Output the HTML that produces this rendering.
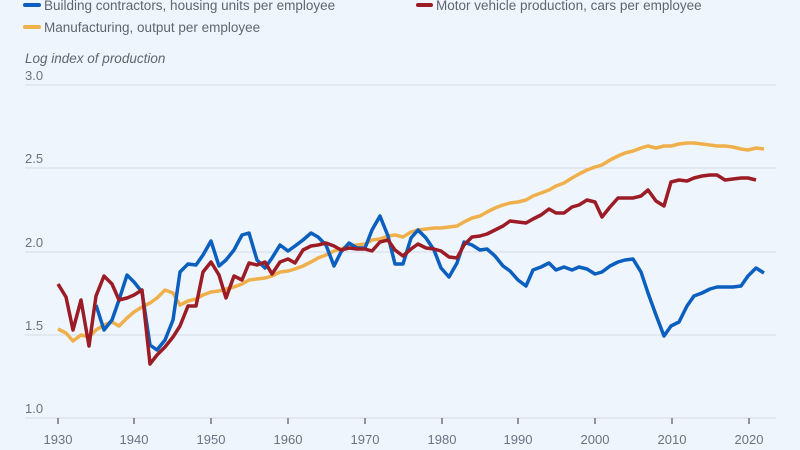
<!DOCTYPE html>
<html><head><style>
html,body{margin:0;padding:0;background:#eff5fd;}
svg{display:block;font-family:"Liberation Sans",sans-serif;}
</style></head><body>
<svg width="800" height="450" viewBox="0 0 800 450" xmlns="http://www.w3.org/2000/svg">
<rect width="800" height="450" fill="#eff5fd"/>
<g fill="#5f6670" font-size="13.5">
<line x1="25" y1="5" x2="39" y2="5" stroke="#0b5fbf" stroke-width="4" stroke-linecap="round"/>
<text x="44" y="10">Building contractors, housing units per employee</text>
<line x1="418" y1="5" x2="431" y2="5" stroke="#9c1c26" stroke-width="4" stroke-linecap="round"/>
<text x="436" y="10">Motor vehicle production, cars per employee</text>
<line x1="25" y1="27" x2="39" y2="27" stroke="#efb04c" stroke-width="4" stroke-linecap="round"/>
<text x="44" y="32">Manufacturing, output per employee</text>
<text x="25" y="63" font-style="italic">Log index of production</text>
</g>
<g stroke="#d3dbe5" stroke-width="1">
<line x1="25" y1="85" x2="776" y2="85"/>
<line x1="25" y1="168" x2="776" y2="168"/>
<line x1="25" y1="252" x2="776" y2="252"/>
<line x1="25" y1="335" x2="776" y2="335"/>
<line x1="25" y1="418" x2="776" y2="418"/>
</g>
<g fill="#6b7380" font-size="13">
<text x="25" y="80">3.0</text>
<text x="25" y="163">2.5</text>
<text x="25" y="247">2.0</text>
<text x="25" y="330">1.5</text>
<text x="25" y="413">1.0</text>
</g>
<g stroke="#333" stroke-width="1">
<line x1="58" y1="418" x2="58" y2="424"/><line x1="134" y1="418" x2="134" y2="424"/><line x1="211" y1="418" x2="211" y2="424"/><line x1="288" y1="418" x2="288" y2="424"/><line x1="365" y1="418" x2="365" y2="424"/><line x1="442" y1="418" x2="442" y2="424"/><line x1="518" y1="418" x2="518" y2="424"/><line x1="595" y1="418" x2="595" y2="424"/><line x1="672" y1="418" x2="672" y2="424"/><line x1="749" y1="418" x2="749" y2="424"/>
</g>
<g fill="#6b7380" font-size="13" text-anchor="middle">
<text x="58" y="444">1930</text><text x="134" y="444">1940</text><text x="211" y="444">1950</text><text x="288" y="444">1960</text><text x="365" y="444">1970</text><text x="442" y="444">1980</text><text x="518" y="444">1990</text><text x="595" y="444">2000</text><text x="672" y="444">2010</text><text x="749" y="444">2020</text>
</g>
<g fill="none" stroke-width="3.5" stroke-linejoin="round">
<polyline stroke="#efb04c" points="58,329 66,333 73,341 81,335 89,337 96,330 104,325 112,322 119,326 127,318 134,312 142,307 150,303 157,298 165,290 173,293 180,305 188,301 196,299 203,295 211,292 219,291 226,289 234,287 242,284 249,280 257,279 265,278 272,276 280,272 288,271 295,269 303,266 311,262 318,258 326,255 334,251 341,249 349,246 357,245 365,244 372,240 380,239 388,236 395,235 403,237 411,232 418,230 426,229 434,228 441,228 449,227 457,226 464,222 472,218 480,216 487,212 495,208 503,205 510,203 518,202 526,200 533,196 541,193 549,190 556,186 564,183 572,178 579,174 587,170 595,167 602,165 610,160 618,156 625,153 633,151 641,148 648,146 656,148 664,146 671,146 679,144 687,143 694,143 702,144 710,145 717,146 725,146 733,147 741,149 748,150 756,148 764,149"/>
<polyline stroke="#0b5fbf" points="96,305 104,330 112,320 119,300 127,275 134,282 142,292 150,345 157,350 165,340 173,320 180,272 188,264 196,265 203,255 211,241 219,266 226,260 234,250 242,235 249,233 257,260 265,268 272,258 280,245 288,251 295,246 303,240 311,233 318,237 326,245 334,266 341,252 349,243 357,248 365,248 372,230 380,216 388,236 395,264 403,264 411,238 418,230 426,238 434,250 441,268 449,277 457,263 464,242 472,245 480,250 487,249 495,256 503,266 510,271 518,280 526,286 533,270 541,267 549,263 556,270 564,267 572,270 579,267 587,269 595,274 602,272 610,266 618,262 625,260 633,259 641,272 648,293 656,315 664,336 671,326 679,322 687,306 694,296 702,293 710,289 717,287 725,287 733,287 741,286 748,276 756,268 764,273"/>
<polyline stroke="#9c1c26" points="58,284 66,297 73,330 81,300 89,346 96,296 104,276 112,284 119,300 127,298 134,295 142,290 150,364 157,355 165,347 173,337 180,326 188,306 196,306 203,272 211,262 219,275 226,298 234,276 242,280 249,263 257,265 265,262 272,274 280,262 288,259 295,263 303,250 311,246 318,245 326,243 334,246 341,250 349,248 357,249 365,249 372,251 380,242 388,240 395,250 403,256 411,249 418,244 426,248 434,249 441,251 449,257 457,258 464,245 472,237 480,236 487,234 495,230 503,226 510,221 518,222 526,223 533,219 541,215 549,209 556,213 564,213 572,207 579,205 587,200 595,202 602,217 610,207 618,198 625,198 633,198 641,196 648,190 656,201 664,206 671,182 679,180 687,181 694,178 702,176 710,175 717,175 725,180 733,179 741,178 748,178 756,180"/>
</g>
</svg>
</body></html>
